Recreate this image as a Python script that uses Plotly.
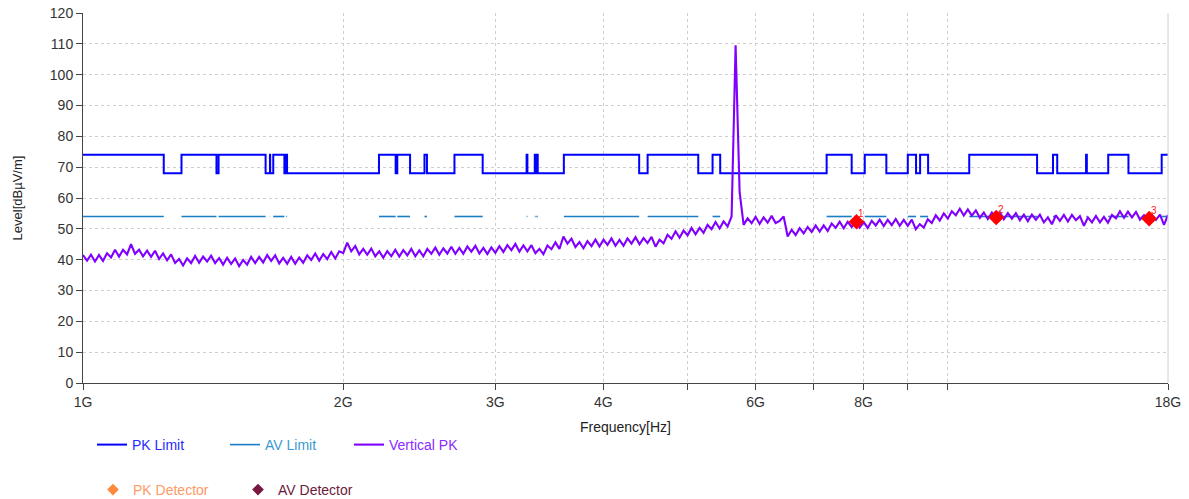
import numpy as np
import plotly.graph_objects as go

# ---------------- data ----------------
sweep_start_hz = 1e9
sweep_stop_hz = 18e9

vertical_pk_level = [
    41.5, 39.7, 41.6, 39.4, 41.5, 39.6, 42.1, 40.7, 43.2, 41.0,
    43.2, 41.7, 45.0, 41.9, 43.2, 41.1, 42.9, 40.9, 42.9, 40.2,
    42.0, 39.8, 41.7, 38.9, 40.2, 38.1, 40.4, 38.9, 41.2, 39.0,
    41.0, 39.4, 41.3, 38.9, 40.5, 38.4, 40.6, 38.6, 40.4, 37.9,
    39.9, 38.4, 40.9, 38.9, 40.9, 39.1, 41.5, 39.6, 41.4, 38.8,
    40.6, 38.7, 40.9, 38.7, 40.7, 39.0, 41.4, 39.9, 42.0, 39.7,
    41.8, 40.2, 42.5, 40.4, 42.7, 42.1, 45.5, 42.7, 44.4, 41.7,
    43.5, 41.6, 43.6, 41.1, 42.7, 40.6, 42.8, 41.1, 43.2, 41.0,
    43.1, 41.4, 43.5, 41.1, 43.0, 41.1, 43.5, 41.9, 43.9, 41.6,
    43.7, 42.0, 44.2, 41.9, 43.8, 41.9, 44.3, 42.6, 44.5, 42.0,
    43.8, 41.8, 44.0, 42.2, 44.4, 42.5, 44.7, 43.1, 45.1, 42.6,
    44.6, 42.7, 44.7, 42.1, 43.5, 41.8, 44.6, 43.4, 45.6, 43.5,
    47.5, 45.2, 46.8, 44.1, 45.7, 43.7, 46.0, 44.4, 46.5, 44.3,
    46.5, 44.8, 46.9, 44.5, 46.4, 44.5, 46.9, 45.2, 47.3, 45.0,
    47.0, 45.4, 47.4, 44.2, 46.5, 45.3, 48.1, 46.8, 49.2, 47.1,
    49.4, 47.9, 50.3, 48.2, 50.3, 48.7, 51.3, 49.9, 52.2, 50.1,
    52.4, 50.8, 54.0, 109.5, 62.0, 51.3, 53.4, 51.8, 53.9, 51.6,
    53.7, 52.0, 54.2, 51.9, 52.6, 54.0, 47.5, 49.7, 48.0, 50.2,
    48.5, 50.6, 49.0, 51.1, 49.1, 51.1, 49.3, 51.7, 50.3, 52.3,
    50.2, 52.3, 50.6, 52.5, 50.4, 52.2, 50.3, 52.6, 51.1, 53.0,
    50.9, 52.9, 51.2, 53.2, 51.0, 52.9, 51.0, 53.0, 49.9, 51.5,
    50.4, 53.1, 51.9, 54.4, 52.7, 55.0, 53.3, 55.7, 54.4, 56.5,
    54.3, 56.3, 54.3, 56.0, 53.6, 55.3, 53.2, 55.3, 53.6, 55.4,
    53.1, 55.1, 53.3, 55.1, 52.8, 54.6, 52.5, 54.6, 52.9, 54.6,
    52.1, 53.7, 51.5, 54.4, 52.6, 54.5, 52.4, 54.5, 52.8, 54.1,
    51.0, 53.7, 52.1, 54.2, 52.1, 53.9, 52.0, 54.5, 53.4, 55.7,
    53.6, 55.6, 53.7, 55.5, 53.0, 54.4, 52.3, 54.4, 52.9, 54.6,
    51.3, 54.5,
]

# Restricted bands (GHz): PK limit 74 / AV limit 54 inside, PK 68 outside
restricted_band_start_ghz = [1.0, 1.3, 1.435, 1.6455, 1.66, 1.7188, 2.2, 2.31, 2.4835, 2.69,
                             3.26, 3.332, 3.3458, 3.6, 4.5, 5.35, 7.25, 8.025, 9.0, 9.3,
                             10.6, 13.25, 14.47, 15.35, 17.7]
restricted_band_stop_ghz = [1.24, 1.427, 1.6265, 1.6465, 1.71, 1.7222, 2.3, 2.39, 2.5, 2.9,
                            3.267, 3.339, 3.358, 4.4, 5.15, 5.46, 7.75, 8.5, 9.2, 9.5,
                            12.7, 13.4, 14.5, 16.2, 18.0]
pk_limit_in_band = 74
pk_limit_out_band = 68
av_limit_in_band = 54

# Final-measurement markers
marker_freq_ghz = [7.85, 11.39, 17.12]
marker_level = [52.3, 53.7, 53.3]
marker_label = ["1", "2", "3"]

# Axis ticks
x_tick_ghz = [1, 2, 3, 4, 5, 6, 7, 8, 9, 10, 18]
x_tick_text = ["1G", "2G", "3G", "4G", "", "6G", "", "8G", "", "", "18G"]
y_tick_vals = [0, 10, 20, 30, 40, 50, 60, 70, 80, 90, 100, 110, 120]

# ---------------- build series ----------------
freq_hz = np.geomspace(sweep_start_hz, sweep_stop_hz, len(vertical_pk_level))

start_g = sweep_start_hz / 1e9
stop_g = sweep_stop_hz / 1e9
edges = sorted(set([start_g, stop_g] + restricted_band_start_ghz + restricted_band_stop_ghz))
pk_x, pk_y = [], []
for a, b in zip(edges[:-1], edges[1:]):
    mid = (a * b) ** 0.5
    inside = any(s <= mid < e for s, e in zip(restricted_band_start_ghz, restricted_band_stop_ghz))
    lvl = pk_limit_in_band if inside else pk_limit_out_band
    pk_x += [a * 1e9, b * 1e9]
    pk_y += [lvl, lvl]

av_x, av_y = [], []
for s, e in zip(restricted_band_start_ghz, restricted_band_stop_ghz):
    av_x += [s * 1e9, e * 1e9, None]
    av_y += [av_limit_in_band, av_limit_in_band, None]

PK_COLOR = "#0000FF"
AV_COLOR = "#1B7DC4"
VPK_COLOR = "#8000FF"

fig = go.Figure()
fig.add_trace(go.Scatter(x=pk_x, y=pk_y, mode="lines", line=dict(color=PK_COLOR, width=2),
                         name='<span style="color:#2B2BFF">PK Limit</span>', legend="legend"))
fig.add_trace(go.Scatter(x=av_x, y=av_y, mode="lines", line=dict(color=AV_COLOR, width=1.6),
                         name='<span style="color:#3A9AD0">AV Limit</span>', legend="legend2",
                         connectgaps=False))
fig.add_trace(go.Scatter(x=freq_hz, y=vertical_pk_level, mode="lines",
                         line=dict(color=VPK_COLOR, width=2.1),
                         name='<span style="color:#8A2BFF">Vertical PK</span>', legend="legend3"))
fig.add_trace(go.Scatter(x=[f * 1e9 for f in marker_freq_ghz], y=marker_level, mode="markers",
                         marker=dict(symbol="diamond", color="#FF0000", size=12),
                         showlegend=False))
fig.add_trace(go.Scatter(x=[None], y=[None], mode="markers",
                         marker=dict(symbol="diamond", color="#FF8A3D", size=9),
                         name='<span style="color:#FF9A66">PK Detector</span>', legend="legend4"))
fig.add_trace(go.Scatter(x=[None], y=[None], mode="markers",
                         marker=dict(symbol="diamond", color="#7A1642", size=9),
                         name='<span style="color:#6E1A3C">AV Detector</span>', legend="legend5"))

marker_annotations = [
    dict(x=np.log10(f * 1e9), y=lv, text=lb, showarrow=False, xref="x", yref="y",
         xshift=5, yshift=8, font=dict(color="#FF2020", size=10, family="Arial, Liberation Sans"))
    for f, lv, lb in zip(marker_freq_ghz, marker_level, marker_label)
]

PLOT_L, PLOT_R, PLOT_T, PLOT_B = 83, 1168, 13, 383
pw = PLOT_R - PLOT_L
ph = PLOT_B - PLOT_T


def px_x(px):
    return (px - PLOT_L) / pw


def px_y(py):
    return (PLOT_B - py) / ph


font_family = "Arial, Liberation Sans, sans-serif"
grid_color = "#CFCFCF"


def leg(left_px, center_py):
    return dict(orientation="h", x=px_x(left_px), xanchor="left", y=px_y(center_py),
                yanchor="middle", font=dict(size=14, family=font_family),
                bgcolor="rgba(0,0,0,0)")


fig.update_layout(
    width=1189, height=499,
    margin=dict(l=PLOT_L, r=1189 - PLOT_R, t=PLOT_T, b=499 - PLOT_B, autoexpand=False),
    paper_bgcolor="white", plot_bgcolor="white",
    font=dict(family=font_family, size=14, color="#333333"),
    legend=leg(92, 445),
    legend2=leg(225, 445),
    legend3=leg(349, 445),
    legend4=leg(93, 490),
    legend5=leg(238, 490),
    annotations=marker_annotations,
    xaxis=dict(type="log", range=[np.log10(sweep_start_hz), np.log10(sweep_stop_hz)],
               tickvals=[t * 1e9 for t in x_tick_ghz], ticktext=x_tick_text,
               showgrid=True, gridcolor=grid_color, griddash="3px,3px", gridwidth=1,
               showline=True, linecolor="#444444", linewidth=1,
               ticks="outside", ticklen=6, tickcolor="#444444",
               tickfont=dict(size=14, color="#333333"),
               title=dict(text="Frequency[Hz]", font=dict(size=14, color="#222222"), standoff=13),
               zeroline=False, automargin=False),
    yaxis=dict(range=[0, 120], tickvals=y_tick_vals,
               showgrid=True, gridcolor=grid_color, griddash="3px,3px", gridwidth=1,
               showline=True, linecolor="#444444", linewidth=1,
               ticks="outside", ticklen=6, tickcolor="#444444",
               tickfont=dict(size=14, color="#333333"),
               title=dict(text="Level[dBµV/m]", font=dict(size=13, color="#222222"), standoff=24),
               zeroline=False, automargin=False),
    shapes=[dict(type="line", xref="paper", yref="paper", x0=1, x1=1, y0=0, y1=1,
                 line=dict(color="#D0D0D0", width=1))],
)

fig.write_html("out.html", config={"displayModeBar": False},
               post_script="document.body.style.margin='0';")
